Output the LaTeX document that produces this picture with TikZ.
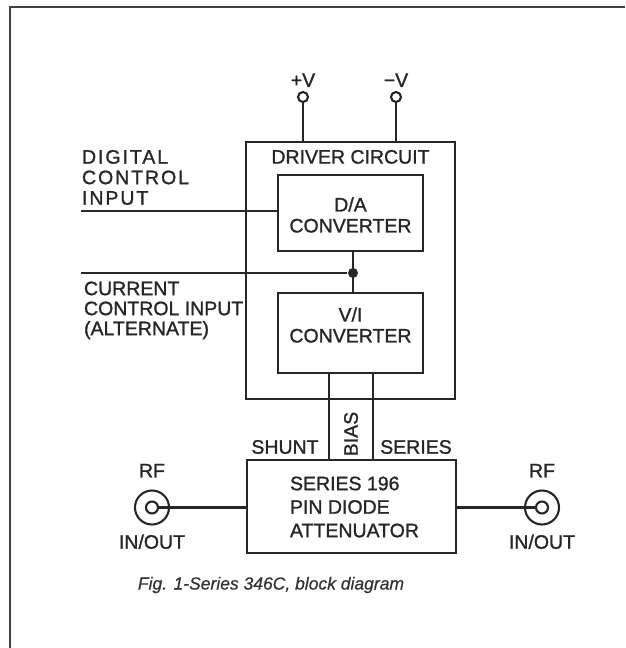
\documentclass[tikz,border=0pt]{standalone}
\usepackage{fontspec}
\setmainfont{Liberation Sans}
\usetikzlibrary{positioning}

\begin{document}
\begin{tikzpicture}[x=1pt,y=-1pt,line width=2.1pt,draw=black!85,
 blk/.style 2 args={draw,rectangle,minimum width=#1,minimum height=#2,inner sep=0pt},
 term/.style={circle,draw,minimum size=10pt,inner sep=0pt},
 jack/.style={circle,draw,minimum size=34pt,inner sep=0pt},
 pin/.style={circle,draw,minimum size=12pt,inner sep=0pt},
 dot/.style={circle,fill=black!85,minimum size=10pt,inner sep=0pt},
 lbl/.style={font=\fontsize{19.5}{21}\selectfont\addfontfeature{FakeBold=1.2},inner sep=0pt,text=black!85}]
\useasboundingbox (0,0) rectangle (625,648);
\draw[line width=2.6pt,black!75] (10,648) -- (10,7) -- (625,7);
% blocks
\node[blk={209}{257}] (drv) at (350.5,270.5) {};
\node[lbl,below=8pt of drv.north] (drvt) {DRIVER CIRCUIT};
\node[blk={145}{76}] (da) at (350.5,213) {};
\node[lbl,align=center] (dat) at ([yshift=-2pt]da.center) {D/A\\CONVERTER};
\node[blk={145}{80}] (vi) at (350.5,333) {};
\node[lbl,align=center] (vit) at ([yshift=8pt]vi.center) {V/I\\CONVERTER};
\node[blk={209}{93}] (att) at (351.5,506.5) {};
\node[lbl,align=left,anchor=west,font=\fontsize{19.5}{23.5}\selectfont\addfontfeature{FakeBold=1.2}] (attt) at (289,507) {SERIES 196\\PIN DIODE\\ATTENUATOR};
% supply terminals
\foreach \n/\x/\lab in {pv/303/+V,mv/396/−V}{
  \node[term] (\n) at (\x,97) {};
  \node[lbl,above=3pt of \n] {\lab};
  \draw (\n) -- (\n |- drv.north);
}
% inputs
\coordinate (dci) at (81,211);
\coordinate (cci) at (81,273);
\node[dot] (jn) at (353,273) {};
\draw (dci) -- (dci -| da.west);
\draw (cci) -- (jn);
\draw (jn |- da.south) -- (jn |- vi.north);
\node[lbl,align=left,anchor=north west,font=\fontsize{19.5}{20.5}\selectfont\addfontfeature{LetterSpace=10,FakeBold=1.2}] at (81,149) {DIGITAL\\CONTROL\\INPUT};
\node[lbl,align=left,anchor=north west,font=\fontsize{19.5}{20}\selectfont\addfontfeature{FakeBold=1.2}] at (83,280.5) {CURRENT\\CONTROL INPUT\\(ALTERNATE)};
% bias lines
\coordinate (bsh) at (329,0);
\coordinate (bse) at (373,0);
\draw (bsh |- vi.south) -- (bsh |- att.north);
\draw (bse |- vi.south) -- (bse |- att.north);
\node[lbl,rotate=90] at (351,434) {BIAS};
\node[lbl] at (285,447) {SHUNT};
\node[lbl] at (416,447) {SERIES};
% RF connectors
\foreach \n/\x in {l/152,r/542}{
  \node[jack] (j\n) at (\x,507.5) {};
  \node[pin] (p\n) at (\x,507.5) {};
  \node[lbl,above=11pt of j\n] {RF};
  \node[lbl,below=8pt of j\n] {IN/OUT};
}
\draw (pl.east) -- (pl.east -| att.west);
\draw (pr.west) -- (pr.west -| att.east);
\node[font=\fontsize{17.5}{20}\selectfont\itshape\addfontfeature{FakeBold=0.6},text=black!80] (cap) at (271,585) {Fig. 1-Series 346C, block diagram};
\end{tikzpicture}
\end{document}
